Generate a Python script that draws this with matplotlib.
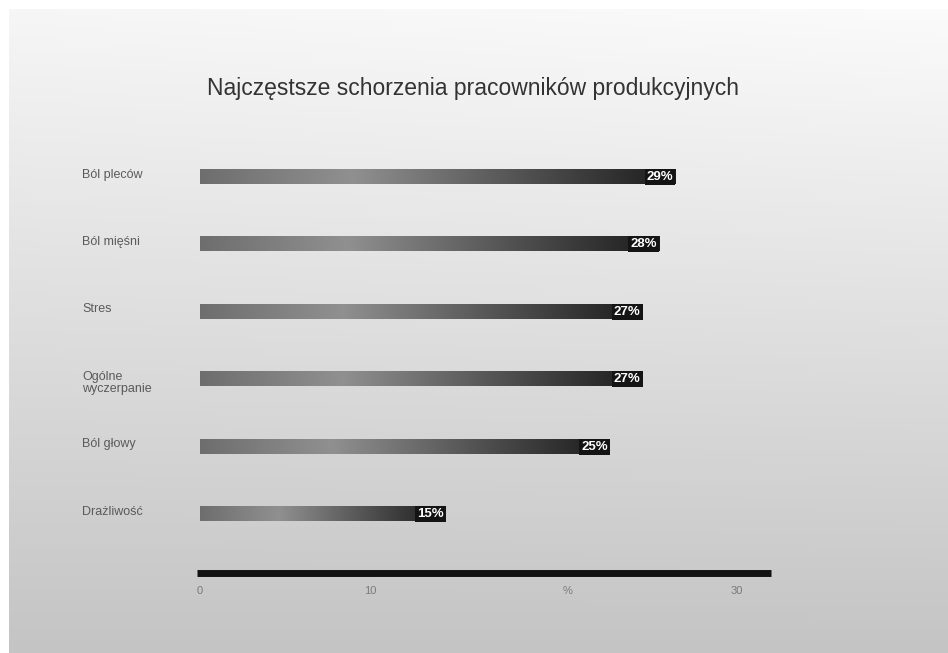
import numpy as np
import matplotlib
matplotlib.use("Agg")
import matplotlib.pyplot as plt
from matplotlib.colors import LinearSegmentedColormap

plt.rcParams['font.family'] = ['Liberation Sans', 'DejaVu Sans']

# ---- data ----
categories = ["Ból pleców", "Ból mięśni", "Stres", "Ogólne\nwyczerpanie", "Ból głowy", "Drażliwość"]
values = [29, 28, 27, 27, 25, 15]
tick_labels = ["0", "10", "%", "30"]
tick_positions = [0, 10.4, 22.4, 32.7]

W, H, DPI = 948, 653, 100
fig = plt.figure(figsize=(W / DPI, H / DPI), dpi=DPI)
fig.patch.set_facecolor("white")

# background gradient panel
bg = fig.add_axes([9 / W, 0, 1 - 9 / W, 1 - 9 / H], zorder=-2)
ny, nx = 200, 200
yy = np.linspace(0, 1, ny)[:, None]
xx = np.linspace(0, 1, nx)[None, :]
val = 246 - 50 * yy + 5 * xx * (1 - yy)
img = np.clip(val, 0, 255) / 255.0
bg.imshow(np.dstack([img, img, img]), aspect="auto", extent=(0, 1, 0, 1), origin="upper")
bg.set_axis_off()

# main axes: x=0 at px 200, axis line from px 197 to 771, at y px 573
k = 16.4  # px per unit
zero_px = 200
left_px, right_px = 197, 771
top_px, bottom_px = 150, 573
ax = fig.add_axes([left_px / W, 1 - bottom_px / H, (right_px - left_px) / W, (bottom_px - top_px) / H])
ax.set_facecolor("none")
xlim = (-(zero_px - left_px) / k, (right_px - zero_px) / k)
first_c, step = 177, 67.4
ylim = (5 + (bottom_px - (first_c + 5 * step)) / step, -(first_c - top_px) / step)

for s in ["top", "right", "left"]:
    ax.spines[s].set_visible(False)
ax.spines["bottom"].set_linewidth(5)
ax.spines["bottom"].set_color("#121212")
ax.spines["bottom"].set_capstyle("butt")
ax.tick_params(axis="y", left=False, labelleft=False)
ax.set_xticks(tick_positions)
ax.set_xticklabels(tick_labels, fontsize=8, color="#7a7a7a")
ax.tick_params(axis="x", length=0, pad=9)

cmap = LinearSegmentedColormap.from_list(
    "bar", [(0, "#6e6e6e"), (0.32, "#909090"), (0.7, "#4e4e4e"), (1.0, "#1c1c1c")])
grad = np.linspace(0, 1, 256)[None, :]
bh = 0.21
for i, (c, v) in enumerate(zip(categories, values)):
    ax.imshow(grad, cmap=cmap, aspect="auto", extent=(0, v, i + bh / 2, i - bh / 2),
              interpolation="bilinear", zorder=2)
    ax.annotate(f"{v}%", xy=(v, i), xytext=(-1.6, 0), textcoords="offset points",
                ha="right", va="center", color="white", fontsize=9.5, fontweight="bold",
                zorder=4,
                bbox=dict(boxstyle="square,pad=0.15", fc="#141414", ec="none"))
    ax.annotate(c, xy=(82 / W, i), xycoords=("figure fraction", "data"),
                xytext=(0, 6), textcoords="offset points",
                ha="left", va="top", fontsize=9, color="#5a5a5a", linespacing=1.05)

ax.set_xlim(*xlim)
ax.set_ylim(*ylim)

fig.text(473 / W, 1 - 88 / H, "Najczęstsze schorzenia pracowników produkcyjnych",
         ha="center", va="center", fontsize=16.5, color="#333333")

fig.savefig("out.png", dpi=DPI)
